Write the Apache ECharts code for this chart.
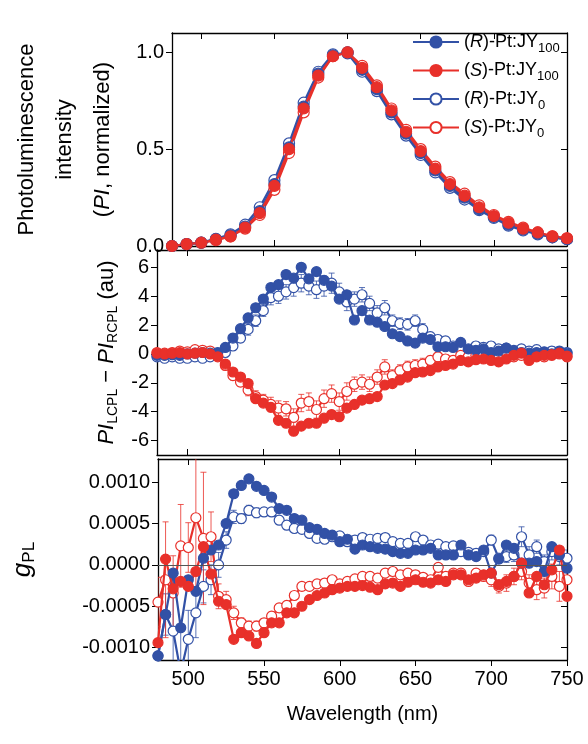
<!DOCTYPE html>
<html><head><meta charset="utf-8">
<script src="https://cdn.jsdelivr.net/npm/echarts@6/dist/echarts.min.js"></script>
<style>html,body{margin:0;padding:0;background:#fff}#c{width:588px;height:744px}</style>
</head><body><div id="c"></div>
<script>
const wl10 = [480,490,500,510,520,530,540,550,560,570,580,590,600,610,620,630,640,650,660,670,680,690,700,710,720,730,740,750];
const piR100 = [0,0.01,0.017,0.035,0.055,0.10,0.18,0.32,0.51,0.72,0.89,0.985,1.0,0.91,0.81,0.69,0.58,0.48,0.39,0.31,0.25,0.19,0.15,0.11,0.085,0.065,0.045,0.035];
const piS100 = [0,0.01,0.017,0.033,0.05,0.095,0.17,0.31,0.50,0.71,0.88,0.98,1.0,0.92,0.82,0.70,0.59,0.49,0.40,0.32,0.26,0.20,0.155,0.12,0.09,0.07,0.05,0.04];
const piR0 = [0,0.01,0.018,0.037,0.06,0.11,0.20,0.34,0.53,0.74,0.90,0.99,0.995,0.90,0.80,0.68,0.57,0.47,0.38,0.30,0.24,0.185,0.145,0.105,0.08,0.06,0.045,0.035];
const piS0 = [0,0.01,0.016,0.03,0.05,0.09,0.16,0.29,0.48,0.69,0.87,0.98,1.0,0.93,0.83,0.71,0.60,0.50,0.41,0.33,0.27,0.21,0.16,0.125,0.095,0.07,0.05,0.04];

const wl5 = [480,485,490,495,500,505,510,515,520,525,530,535,540,545,550,555,560,565,570,575,580,585,590,595,600,605,610,615,620,625,630,635,640,645,650,655,660,665,670,675,680,685,690,695,700,705,710,715,720,725,730,735,740,745,750];
const dR100 = [-0.1,-0.1,-0.05,-0.1,0,0.05,0.1,0.05,0.1,0.45,1.1,1.75,2.5,3.2,3.8,4.6,4.8,5.5,5.25,6.0,5.2,5.7,5.1,4.7,3.8,4.1,2.35,3.0,2.35,2.2,1.9,1.4,1.2,0.9,0.75,1.1,1.0,0.5,0.5,0.45,0.8,0.35,0.25,0.35,0.1,0.2,0.4,0.2,0.1,0.05,0.1,0.15,0,0.2,0.05];
const dS100 = [0.05,0,0.05,0.1,0,0.05,0.1,0,-0.2,-0.7,-1.25,-1.6,-2.05,-3.1,-3.4,-3.7,-4.6,-4.8,-5.35,-5.0,-4.8,-4.8,-4.45,-4.2,-4.35,-3.75,-3.5,-3.2,-3.1,-2.95,-2.15,-2.05,-1.8,-1.6,-1.3,-1.25,-1.15,-0.9,-0.8,-0.7,-0.45,-0.55,-0.4,-0.35,-0.45,-0.55,-0.35,-0.1,0.05,-0.45,-0.2,-0.1,-0.05,0.05,-0.15];
const dR0 = [-0.2,-0.3,-0.2,-0.3,-0.3,-0.2,-0.3,-0.2,-0.1,0.1,0.55,1.1,1.7,2.3,3.0,3.9,4.0,4.3,4.6,4.9,4.7,4.45,4.7,4.9,4.3,3.6,3.8,4.1,3.5,2.85,3.2,2.3,2.1,2.05,2.3,1.7,1.2,1.0,0.9,0.55,0.35,0.25,0.55,0.45,0.55,0.35,0.4,0.25,0.35,0.2,0.3,0.1,0.2,0.05,0.1];
const dS0 = [0.1,0.05,0.1,0.2,0.15,0.3,0.25,0.2,-0.1,-0.8,-1.5,-1.95,-2.5,-2.95,-3.2,-3.5,-3.75,-3.8,-4.4,-3.4,-3.3,-3.85,-3.1,-2.75,-3.3,-2.6,-2.1,-1.95,-2.1,-1.6,-0.9,-1.5,-1.15,-0.9,-0.8,-0.7,-0.45,-0.2,-0.35,-0.45,-0.1,-0.2,-0.1,0,-0.2,-0.1,0.05,-0.2,-0.1,-0.3,-0.15,-0.2,-0.1,0,-0.2];
const dErrR0 = [0.2,0.2,0.2,0.2,0.2,0.2,0.2,0.2,0.2,0.3,0.3,0.3,0.4,0.4,0.4,0.5,0.5,0.5,0.6,0.6,0.6,0.6,0.7,0.7,0.6,0.6,0.5,0.5,0.5,0.5,0.5,0.4,0.4,0.4,0.4,0.4,0.3,0.3,0.3,0.3,0.3,0.3,0.3,0.3,0.3,0.3,0.3,0.3,0.3,0.3,0.3,0.3,0.3,0.3,0.3];
const dErrS0 = [0.2,0.2,0.2,0.2,0.2,0.2,0.2,0.2,0.2,0.3,0.3,0.3,0.4,0.4,0.4,0.5,0.5,0.5,0.6,0.6,0.6,0.6,0.6,0.6,0.6,0.6,0.5,0.5,0.5,0.5,0.5,0.4,0.4,0.4,0.4,0.4,0.3,0.3,0.3,0.3,0.3,0.3,0.3,0.3,0.3,0.3,0.3,0.3,0.3,0.3,0.3,0.3,0.3,0.3,0.3];

const gR100 = [-0.0011,-0.0006,-0.0001,-0.00076,-0.00018,-0.00032,0.00008,0.00018,0.00024,0.0005,0.00086,0.00096,0.00104,0.00095,0.0009,0.00082,0.00068,0.00066,0.00056,0.00054,0.00045,0.00043,0.00038,0.00036,0.00028,0.00031,0.00019,0.00024,0.00022,0.0002,0.00019,0.00016,0.00014,0.00014,0.00018,0.00018,0.0002,0.00012,0.00012,0.00012,0.00024,0.00012,0.0001,0.00018,-0.0001,0.00007,0.00024,0.0002,0.00002,0.00002,0.00004,-0.00008,0.00022,0.00012,-0.00004];
const gS100 = [-0.00094,0.00007,-0.00029,-0.0002,-0.00026,-0.00008,0.00022,-0.00011,-0.00044,-0.00048,-0.0009,-0.00082,-0.00086,-0.00095,-0.00082,-0.0007,-0.0007,-0.00058,-0.00058,-0.0005,-0.00042,-0.00037,-0.00034,-0.0003,-0.00028,-0.00026,-0.00026,-0.00025,-0.00027,-0.0003,-0.00023,-0.00022,-0.00026,-0.00021,-0.00018,-0.00021,-0.00022,-0.00018,-0.0002,-0.00012,-0.00012,-0.00018,-0.00016,-0.00012,-0.0001,-0.00024,-0.0002,-0.00014,0.00002,-0.00034,-0.00014,-0.00024,-0.00006,0.00018,-0.00038];
const gR0 = [-0.0011,-0.0006,-0.0008,-0.0013,-0.0009,-0.00058,-0.00026,-0.00018,0,0.0003,0.00058,0.00056,0.00066,0.00063,0.00064,0.00064,0.00054,0.00048,0.00044,0.00043,0.00038,0.00032,0.00031,0.00034,0.00035,0.00028,0.0003,0.00033,0.00031,0.00032,0.00033,0.00028,0.00026,0.00026,0.00034,0.0003,0.00024,0.00025,0.00022,0.00023,0.00016,0.00015,0.00014,0.00016,0.0003,0.00008,0.0001,0.00012,0.00034,0.00012,0.00022,0.00004,0.00016,0.0001,0.00008];
const gS0 = [-0.00045,-0.00018,-0.00034,0.00023,0.00021,0.00057,0.00032,0.00034,-0.00038,-0.00042,-0.00058,-0.0007,-0.00074,-0.00074,-0.0007,-0.00062,-0.00052,-0.00049,-0.00037,-0.00026,-0.00026,-0.00023,-0.00022,-0.00018,-0.00023,-0.0002,-0.00017,-0.00014,-0.00014,-0.00016,-0.0001,-0.00008,-0.00012,-0.0001,-0.00012,-0.00015,-0.00018,-0.00003,-0.00014,-0.0001,-0.0001,-0.0002,-0.0001,-0.00014,-0.00018,-0.00026,-0.00022,-0.00014,-0.00008,-0.00022,-0.0003,-0.00028,-0.00014,-0.00026,-0.00018];
const gErrR0 = [0.0002,0.00025,0.0007,0.0005,0.00035,0.0003,0.0002,0.00018,0.00015,0.0001,0.00008,0.00006,0.00006,0.00006,0.00005,0.00005,0.00005,0.00005,0.00004,0.00004,0.00004,0.00004,0.00004,0.00004,0.00004,0.00004,0.00004,0.00004,0.00004,0.00004,0.00004,0.00004,0.00004,0.00004,0.00004,0.00004,0.00004,0.00004,0.00004,0.00004,0.00005,0.00005,0.00005,0.00005,0.00006,0.00006,0.00007,0.00008,0.00012,0.0001,0.00008,0.00008,0.0001,0.0001,0.0001];
const gErrS0 = [0.0003,0.0007,0.00045,0.0005,0.0003,0.0009,0.0008,0.0003,0.00015,0.0001,0.00008,0.00006,0.00006,0.00006,0.00005,0.00005,0.00005,0.00005,0.00004,0.00004,0.00004,0.00004,0.00004,0.00004,0.00004,0.00004,0.00004,0.00004,0.00004,0.00004,0.00004,0.00004,0.00004,0.00004,0.00004,0.00004,0.00004,0.00004,0.00004,0.00004,0.00005,0.00005,0.00005,0.00005,0.00008,0.00008,0.0001,0.0001,0.0001,0.0001,0.00012,0.00012,0.00015,0.00018,0.00018];

const xTicks = [500,550,600,650,700,750];
const y1Ticks = [0, 0.5, 1.0];
const y2Ticks = [-6,-4,-2,0,2,4,6];
const y3Ticks = [-0.001,-0.0005,0,0.0005,0.001];

const BLUE = '#3251a6', RED = '#e8302a';
const FONT = 'Liberation Sans';
const pair = (xs, ys) => xs.map((x, i) => [x, ys[i]]);

function line(name, xs, ys, color, filled, gi, size) {
  return {
    name, type: 'line', xAxisIndex: gi, yAxisIndex: gi, data: pair(xs, ys),
    symbol: 'circle', symbolSize: size, showSymbol: true, clip: true,
    lineStyle: { color, width: 2.2 },
    itemStyle: { color: filled ? color : '#fff', borderColor: color, borderWidth: 1.2 },
    emphasis: { disabled: true }, animation: false, z: filled ? 3 : 2
  };
}
function errs(xs, ys, es, color, gi) {
  return {
    type: 'custom', xAxisIndex: gi, yAxisIndex: gi, animation: false, z: 1, silent: true,
    data: xs.map((x, i) => [x, ys[i] - es[i], ys[i] + es[i]]),
    renderItem: (params, api) => {
      const lo = api.coord([api.value(0), api.value(1)]);
      const hi = api.coord([api.value(0), api.value(2)]);
      const w = 3, st = { stroke: color, lineWidth: 0.8 };
      return { type: 'group', children: [
        { type: 'line', shape: { x1: lo[0], y1: lo[1], x2: hi[0], y2: hi[1] }, style: st },
        { type: 'line', shape: { x1: lo[0]-w, y1: lo[1], x2: lo[0]+w, y2: lo[1] }, style: st },
        { type: 'line', shape: { x1: hi[0]-w, y1: hi[1], x2: hi[0]+w, y2: hi[1] }, style: st }
      ], clipPath: { type: 'rect', shape: params.coordSys } };
    }
  };
}

const grids = [
  { left: 157, right: 21, top: 33, height: 213 },
  { left: 157, right: 21, top: 250, height: 205 },
  { left: 157, right: 21, top: 459, height: 201 }
];
const axLine = { show: true, onZero: false, lineStyle: { color: '#000', width: 1.3 } };
const lab = { color: '#000', fontFamily: FONT, fontSize: 20 };
function xAx(gi, showLabel) {
  return {
    type: 'value', gridIndex: gi, min: 480, max: 750,
    axisLine: axLine, splitLine: { show: false },
    axisTick: { show: true, inside: !showLabel, length: 6, lineStyle: { color: '#000' }, customValues: xTicks },
    axisLabel: Object.assign({ show: showLabel, margin: 9, customValues: xTicks }, lab),
    name: showLabel ? 'Wavelength (nm)' : '', nameLocation: 'middle', nameGap: 44,
    nameTextStyle: { color: '#000', fontFamily: FONT, fontSize: 20 }
  };
}
function xTop(gi) {
  return { type: 'value', gridIndex: gi, position: 'top', min: 480, max: 750,
    axisLine: axLine, splitLine: { show: false },
    axisTick: { show: true, inside: true, length: 6, lineStyle: { color: '#000' }, customValues: xTicks },
    axisLabel: { show: false, customValues: xTicks } };
}
function yAx(gi, min, max, ticks, fmt, name, gap, rich, fs, lh) {
  return {
    type: 'value', gridIndex: gi, min, max,
    axisLine: axLine, splitLine: { show: false },
    axisTick: { show: true, length: 6, lineStyle: { color: '#000' }, customValues: ticks },
    axisLabel: Object.assign({ formatter: fmt, margin: 8, customValues: ticks }, lab),
    name, nameLocation: 'middle', nameGap: gap, nameRotate: 90,
    nameTextStyle: { color: '#000', fontFamily: FONT, fontSize: fs, lineHeight: lh, rich }
  };
}
function yRight(gi, min, max, ticks) {
  return { type: 'value', gridIndex: gi, position: 'right', min, max,
    axisLine: axLine, splitLine: { show: false },
    axisTick: { show: true, inside: true, length: 6, lineStyle: { color: '#000' }, customValues: ticks },
    axisLabel: { show: false, customValues: ticks } };
}
function richName(fs) {
  return {
    i: { fontStyle: 'italic', fontFamily: FONT, fontSize: fs, color: '#000' },
    s: { fontFamily: FONT, fontSize: Math.round(fs * 0.65), color: '#000', padding: [Math.round(fs * 0.5), 0, 0, 0] }
  };
}

const opt = {
  backgroundColor: '#fff',
  grid: grids,
  xAxis: [xAx(0, false), xAx(1, false), xAx(2, true), xTop(0), xTop(1), xTop(2)],
  yAxis: [
    yAx(0, 0, 1.1, y1Ticks, v => v.toFixed(1), 'Photoluminescence\nintensity\n({i|PI}, normalized)', 50, richName(22), 22, 38),
    yAx(1, -7, 7.2, y2Ticks, v => v === 0 ? '0' : (v < 0 ? '-' + (-v) : '' + v), '{i|PI}{s|LCPL} − {i|PI}{s|RCPL} (au)', 22, richName(22), 22, 26),
    yAx(2, -0.00115, 0.00128, y3Ticks, v => (v < 0 ? '-' : '') + Math.abs(v).toFixed(4), '{i|g}{s|PL}', 120, richName(26), 26, 30),
    yRight(0, 0, 1.1, y1Ticks), yRight(1, -7, 7.2, y2Ticks), yRight(2, -0.00115, 0.00128, y3Ticks)
  ],
  legend: {
    data: ['R100', 'S100', 'R0', 'S0'], orient: 'vertical', left: 412, top: 33, itemGap: 7,
    itemWidth: 46, itemHeight: 14, padding: 0,
    formatter: n => '({i|' + n[0] + '})-Pt:JY{s|' + n.slice(1) + '}',
    textStyle: { color: '#000', fontFamily: FONT, fontSize: 18,
      rich: { i: { fontStyle: 'italic', fontFamily: FONT, fontSize: 18, color: '#000' },
              s: { fontFamily: FONT, fontSize: 13, color: '#000', padding: [12, 0, 0, 0] } } }
  },
  series: []
};
opt.xAxis.forEach((a, i) => { a.gridIndex = i % 3; });
opt.yAxis.forEach((a, i) => { a.gridIndex = i % 3; });

const S = opt.series;
S.push(line('S0', wl10, piS0, RED, false, 0, 11));
S.push(line('R0', wl10, piR0, BLUE, false, 0, 11));
S.push(line('R100', wl10, piR100, BLUE, true, 0, 11));
S.push(line('S100', wl10, piS100, RED, true, 0, 11));

S.push(errs(wl5, dR0, dErrR0, BLUE, 1), errs(wl5, dS0, dErrS0, RED, 1));
S.push(line('R0', wl5, dR0, BLUE, false, 1, 10), line('S0', wl5, dS0, RED, false, 1, 10));
S.push(line('R100', wl5, dR100, BLUE, true, 1, 10), line('S100', wl5, dS100, RED, true, 1, 10));

S.push(errs(wl5, gR0, gErrR0, BLUE, 2), errs(wl5, gS0, gErrS0, RED, 2));
const zl = line('R0', wl5, gR0, BLUE, false, 2, 10);
zl.markLine = { silent: true, symbol: 'none', label: { show: false }, lineStyle: { color: '#555', width: 1, type: 'solid' }, data: [{ yAxis: 0 }] };
S.push(zl, line('S0', wl5, gS0, RED, false, 2, 10));
S.push(line('R100', wl5, gR100, BLUE, true, 2, 10), line('S100', wl5, gS100, RED, true, 2, 10));

const chart = echarts.init(document.getElementById('c'), null, { renderer: 'canvas' });
chart.setOption(opt);
</script></body></html>
